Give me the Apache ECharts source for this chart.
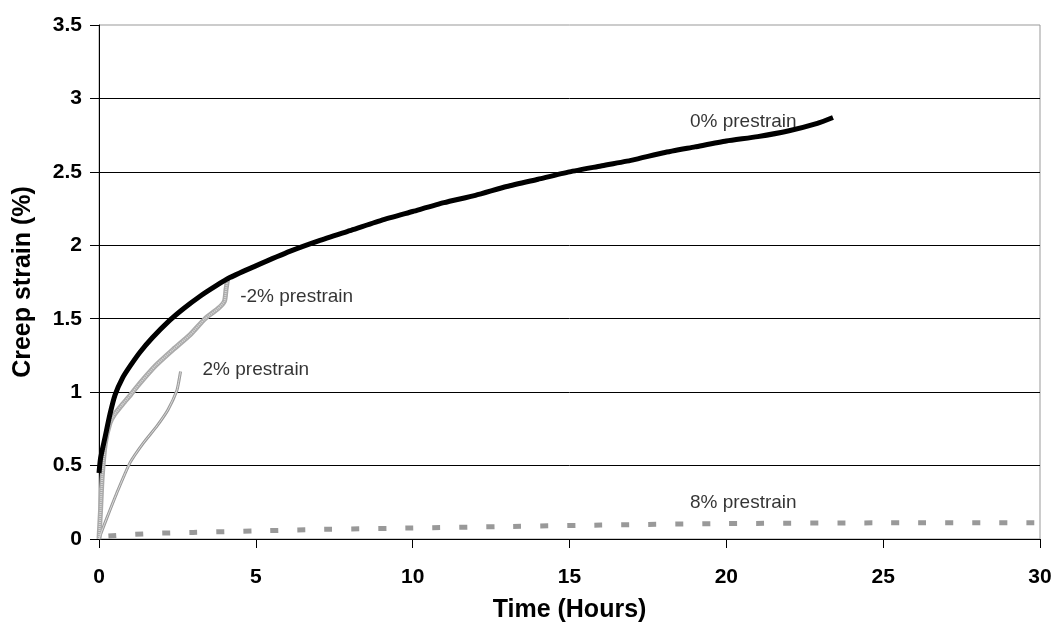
<!DOCTYPE html>
<html><head><meta charset="utf-8">
<script src="https://cdn.jsdelivr.net/npm/echarts@6/dist/echarts.min.js"></script>
<style>html,body{margin:0;padding:0;background:#fff}#c{width:1055px;height:629px}</style>
</head><body><div id="c"></div>
<script>
const xTicks = [0,5,10,15,20,25,30];
const yTicks = [0,0.5,1,1.5,2,2.5,3,3.5];
const s0 = [[0,0.45],[0.05,0.55],[0.19,0.69],[0.35,0.85],[0.51,0.98],[0.76,1.1],[1.0,1.18],[1.3,1.27],[1.7,1.37],[2.26,1.49],[2.7,1.57],[3.2,1.65],[3.7,1.72],[4.17,1.78],[5,1.86],[6.1,1.96],[7,2.03],[8,2.1],[9,2.17],[10,2.23],[11,2.29],[12,2.34],[13,2.4],[14,2.45],[15,2.5],[16,2.54],[17,2.58],[18,2.63],[19,2.67],[20,2.71],[21,2.74],[22,2.78],[22.9,2.83],[23.4,2.87]];
const sm2 = [[0,0],[0.05,0.2],[0.1,0.42],[0.2,0.65],[0.35,0.79],[0.5,0.85],[0.76,0.92],[1.0,0.98],[1.3,1.06],[1.8,1.18],[2.36,1.29],[2.9,1.39],[3.38,1.5],[3.8,1.57],[4.0,1.62],[4.05,1.7],[4.1,1.77]];
const s2 = [[0,0],[0.1,0.06],[0.3,0.17],[0.6,0.33],[0.99,0.52],[1.4,0.65],[1.85,0.77],[2.2,0.88],[2.48,1.01],[2.55,1.08],[2.6,1.14]];
const s8 = [[0.3,0.02],[1,0.03],[2,0.04],[3,0.045],[5,0.055],[7,0.065],[10,0.075],[13,0.085],[16,0.095],[20,0.105],[25,0.11],[30,0.11]];
const labelTexts = ['0% prestrain','-2% prestrain','2% prestrain','8% prestrain'];
const labelPos = [[18.84,2.84],[4.5,1.65],[3.3,1.15],[18.84,0.245]];

const chart = echarts.init(document.getElementById('c'));
const font = 'Liberation Sans, Arial, sans-serif';
const lineBase = {type:'line',symbol:'none',smooth:0.2};
chart.setOption({
  animation:false,
  grid:{left:99,right:15,top:25,bottom:90,show:true,borderColor:'#999',borderWidth:1},
  xAxis:{type:'value',min:0,max:30,interval:5,
    name:'Time (Hours)',nameLocation:'middle',nameGap:59,
    nameTextStyle:{fontFamily:font,fontWeight:'bold',fontSize:25,color:'#000'},
    axisLine:{show:true,lineStyle:{color:'#000',width:1}},
    axisTick:{show:true,inside:false,length:9,lineStyle:{color:'#000'}},
    axisLabel:{fontFamily:font,fontWeight:'bold',fontSize:21,color:'#000',margin:28,
      formatter:v=>xTicks.includes(v)?String(v):''},
    splitLine:{show:false}},
  yAxis:{type:'value',min:0,max:3.5,interval:0.5,
    name:'Creep strain (%)',nameLocation:'middle',nameGap:63,nameRotate:90,
    nameTextStyle:{fontFamily:font,fontWeight:'bold',fontSize:25,color:'#000'},
    axisLine:{show:true,lineStyle:{color:'#000',width:1}},
    axisTick:{show:true,length:9,lineStyle:{color:'#000'}},
    axisLabel:{fontFamily:font,fontWeight:'bold',fontSize:21,color:'#000',margin:17,
      formatter:v=>yTicks.includes(v)?String(v):''},
    splitLine:{show:true,showMaxLine:false,showMinLine:false,lineStyle:{color:'#000',width:1}}},
  series:[
    Object.assign({},lineBase,{data:s8,lineStyle:{color:'#999',width:5,type:[8,19]},z:2}),
    Object.assign({},lineBase,{data:s2,lineStyle:{color:'#999',width:3},z:3}),
    Object.assign({},lineBase,{data:s2,lineStyle:{color:'#ddd',width:1},z:4}),
    Object.assign({},lineBase,{data:sm2,lineStyle:{color:'#aaa',width:5},z:3}),
    Object.assign({},lineBase,{data:sm2,lineStyle:{color:'#d8d8d8',width:2,type:[1,1]},z:4}),
    Object.assign({},lineBase,{data:s0,lineStyle:{color:'#000',width:5},z:5}),
    {type:'scatter',symbolSize:0,z:6,
      data:labelPos.map((p,i)=>({value:p,label:{show:true,formatter:labelTexts[i]}})),
      label:{show:true,position:'right',distance:0,fontFamily:font,fontSize:19,color:'#000'}}
  ]
});
</script></body></html>
